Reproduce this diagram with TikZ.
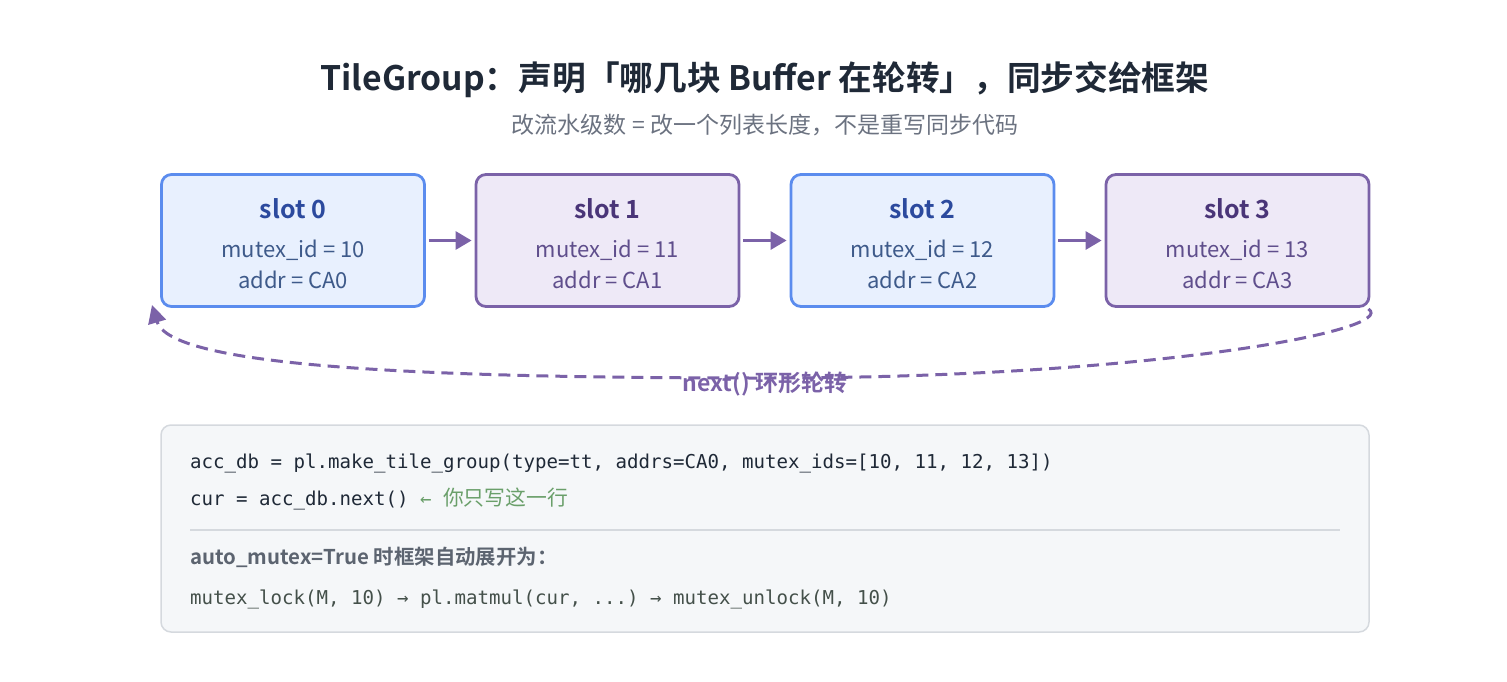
\documentclass[tikz,border=0pt]{standalone}
\usepackage{fontspec}
\setmainfont{Noto Sans CJK SC}[BoldFont={Noto Sans CJK SC Bold}]
\setmonofont{DejaVu Sans Mono}
\usetikzlibrary{arrows.meta}
\definecolor{ink}{HTML}{1F2937}
\definecolor{subgray}{HTML}{6B7280}
\definecolor{bborder}{HTML}{5B8CEE}
\definecolor{bfill}{HTML}{E8F0FE}
\definecolor{btitle}{HTML}{2C4A9E}
\definecolor{btext}{HTML}{3E5A8A}
\definecolor{pborder}{HTML}{7B62A8}
\definecolor{pfill}{HTML}{EEE9F7}
\definecolor{ptitle}{HTML}{4A3578}
\definecolor{ptext}{HTML}{5F4E8C}
\definecolor{codefill}{HTML}{F5F7F9}
\definecolor{codeborder}{HTML}{D5D9DE}
\definecolor{codegreen}{HTML}{6A9F6A}
\definecolor{headgray}{HTML}{5C6470}
\definecolor{lastline}{HTML}{44504A}
\tikzset{
  slotbox/.style={rectangle, rounded corners=10pt, line width=2.8pt, minimum width=263pt, minimum height=132pt, inner sep=0pt},
  bluebox/.style={slotbox, draw=bborder, fill=bfill},
  purplebox/.style={slotbox, draw=pborder, fill=pfill},
  slottitle/.style={anchor=base, inner sep=0pt, font=\bfseries\fontsize{25}{30}\selectfont},
  slotline/.style={anchor=base, inner sep=0pt, font=\fontsize{22}{26}\selectfont},
  flowarrow/.style={draw=pborder, line width=3pt, -{Triangle[length=16pt,width=18pt]}},
  codeline/.style={anchor=base west, inner sep=0pt, font=\ttfamily\fontsize{19.1}{23}\selectfont, text=ink},
}
\begin{document}
\begin{tikzpicture}[x=1pt,y=-1pt]
\useasboundingbox (0,0) rectangle (1507,681);
% title
\node[anchor=base, inner sep=0pt, text=ink, font=\bfseries\fontsize{33.7}{40}\selectfont] (title) at (765,90) {TileGroup：声明「哪几块 Buffer 在轮转」，同步交给框架};
\node[anchor=base, inner sep=0pt, text=subgray, font=\fontsize{23}{27}\selectfont] (subtitle) at (765,133) {改流水级数 = 改一个列表长度，不是重写同步代码};
% slots
\node[bluebox] (s0) at (293,240.5) {};
\node[purplebox] (s1) at (607.5,240.5) {};
\node[bluebox] (s2) at (922.5,240.5) {};
\node[purplebox] (s3) at (1237.5,240.5) {};
\node[slottitle, text=btitle] (s0title) at ([yshift=22.5pt]s0.center) {slot 0};
\node[slotline, text=btext] (s0m) at ([yshift=-17pt]s0.center) {mutex\_id = 10};
\node[slotline, text=btext] (s0a) at ([yshift=-48pt]s0.center) {addr = CA0};
\node[slottitle, text=ptitle] (s1title) at ([yshift=22.5pt]s1.center) {slot 1};
\node[slotline, text=ptext] (s1m) at ([yshift=-17pt]s1.center) {mutex\_id = 11};
\node[slotline, text=ptext] (s1a) at ([yshift=-48pt]s1.center) {addr = CA1};
\node[slottitle, text=btitle] (s2title) at ([yshift=22.5pt]s2.center) {slot 2};
\node[slotline, text=btext] (s2m) at ([yshift=-17pt]s2.center) {mutex\_id = 12};
\node[slotline, text=btext] (s2a) at ([yshift=-48pt]s2.center) {addr = CA2};
\node[slottitle, text=ptitle] (s3title) at ([yshift=22.5pt]s3.center) {slot 3};
\node[slotline, text=ptext] (s3m) at ([yshift=-17pt]s3.center) {mutex\_id = 13};
\node[slotline, text=ptext] (s3a) at ([yshift=-48pt]s3.center) {addr = CA3};
% arrows
\draw[flowarrow] ([xshift=3pt]s0.east) -- ([xshift=-3pt]s1.west);
\draw[flowarrow] ([xshift=3pt]s1.east) -- ([xshift=-3pt]s2.west);
\draw[flowarrow] ([xshift=3pt]s2.east) -- ([xshift=-3pt]s3.west);
% loop back
\coordinate (loopstart) at ([xshift=-2pt,yshift=-1pt]s3.south east);
\coordinate (loopend) at (152,305);
\coordinate (loopmid) at (765,378);
\draw[draw=pborder, line width=3pt, dash pattern=on 12pt off 7pt, -{Triangle[length=18pt,width=18pt]}]
  (loopstart) .. controls (1400,330) and (1150,378) .. (loopmid)
  .. controls (400,378) and (170,365) .. (loopend);
\node[anchor=base, inner sep=0pt, text=pborder, font=\bfseries\fontsize{23}{27}\selectfont] (looplabel) at (765,391) {next() 环形轮转};
% code box
\node[rectangle, rounded corners=10pt, draw=codeborder, fill=codefill, line width=1.5pt, minimum width=1208pt, minimum height=207pt, inner sep=0pt] (code) at (765,528.5) {};
\node[codeline] (c1) at (190,468) {acc\_db = pl.make\_tile\_group(type=tt, addrs=CA0, mutex\_ids=[10, 11, 12, 13])};
\node[codeline] (c2) at (190,505) {cur = acc\_db.next() \textcolor{codegreen}{← {\rmfamily\fontsize{20.8}{24}\selectfont 你只写这一行}}};
\coordinate (sepl) at (190,530);
\coordinate (sepr) at (1340,530);
\draw[codeborder, line width=1.5pt] (sepl) -- (sepr);
\node[anchor=base west, inner sep=0pt, text=headgray, font=\bfseries\fontsize{20.4}{24}\selectfont] (c3) at (190,564) {auto\_mutex=True 时框架自动展开为：};
\node[codeline, text=lastline] (c4) at (190,604) {mutex\_lock(M, 10) → pl.matmul(cur, ...) → mutex\_unlock(M, 10)};
\end{tikzpicture}
\end{document}
